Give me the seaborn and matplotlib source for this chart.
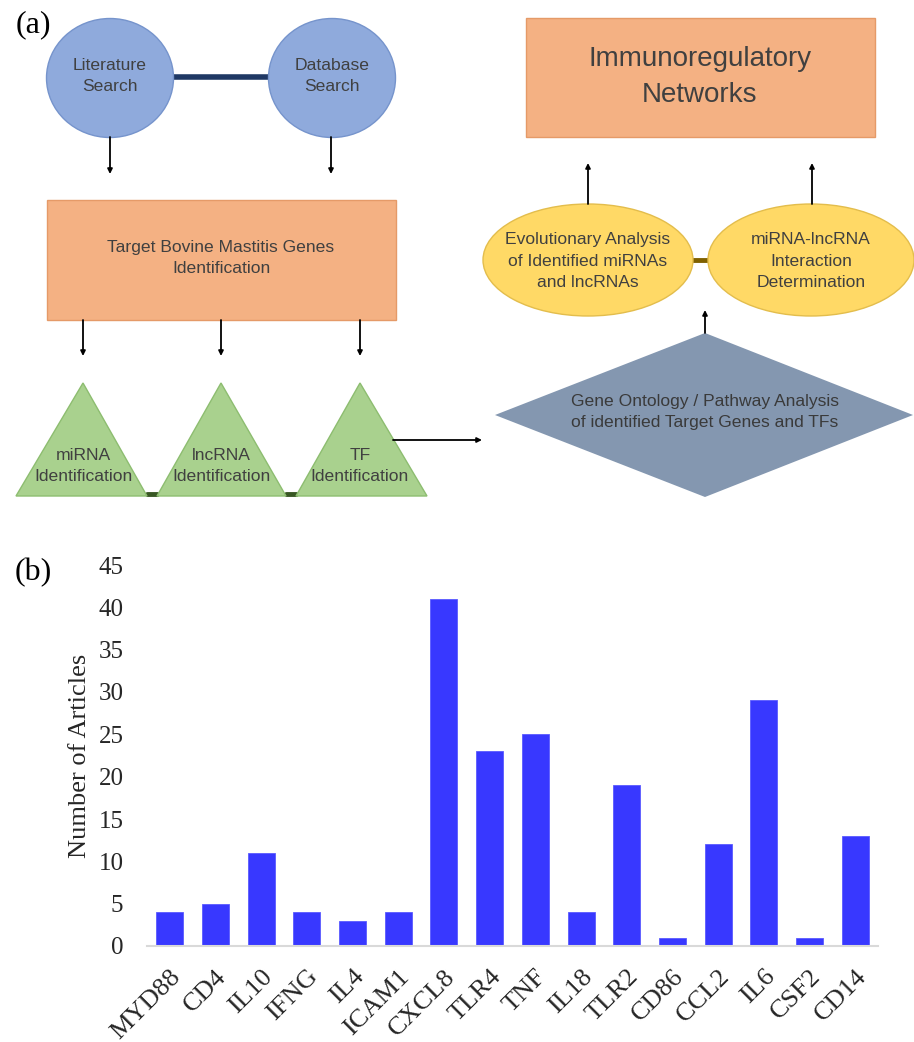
import numpy as np
import pandas as pd
import matplotlib
matplotlib.use('Agg')
import matplotlib.pyplot as plt
import seaborn as sns
from matplotlib.patches import Ellipse, Rectangle, Polygon

# data for panel (b)
genes = ['MYD88', 'CD4', 'IL10', 'IFNG', 'IL4', 'ICAM1', 'CXCL8', 'TLR4',
         'TNF', 'IL18', 'TLR2', 'CD86', 'CCL2', 'IL6', 'CSF2', 'CD14']
articles = [4, 5, 11, 4, 3, 4, 41, 23, 25, 4, 19, 1, 12, 29, 1, 13]
y_ticks = [0, 5, 10, 15, 20, 25, 30, 35, 40, 45]

sns.set_style('white')
plt.rcParams['font.family'] = ['Liberation Sans', 'DejaVu Sans']

W, H = 914, 1042
fig = plt.figure(figsize=(W / 100, H / 100), dpi=100)

# ---- panel (a): flowchart drawn in pixel coords ----
ax0 = fig.add_axes([0, 0, 1, 1])
ax0.set_xlim(0, W)
ax0.set_ylim(H, 0)
ax0.axis('off')

txt = '#404040'
fs = 12.6
ls = 1.55

def arrow(x0, y0, x1, y1):
    ax0.annotate('', xy=(x1, y1), xytext=(x0, y0),
                 arrowprops=dict(arrowstyle='-|>', lw=1.3, color='black',
                                 mutation_scale=7, shrinkA=0, shrinkB=0))

def label(x, y, s, size=fs, color=txt):
    ax0.text(x, y, s, ha='center', va='center', fontsize=size,
             color=color, linespacing=ls, zorder=3)

# search circles
ax0.plot([174, 268], [77, 77], color='#1f3864', lw=4, zorder=1)
for cx, s in [(110, 'Literature\nSearch'), (332, 'Database\nSearch')]:
    ax0.add_patch(Ellipse((cx, 78), 127, 119, facecolor='#8faadc',
                          edgecolor='#7694cc', lw=1, zorder=2))
    label(cx, 76, s)
arrow(110, 137, 110, 174)
arrow(331, 137, 331, 174)

# target genes box
ax0.add_patch(Rectangle((47, 200), 349, 120, facecolor='#f4b183',
                        edgecolor='#e59a68', lw=1, zorder=2))
label(221, 258, 'Target Bovine Mastitis Genes\nIdentification')
for x in [83, 221, 360]:
    arrow(x, 320, x, 356)

# triangles
tri_labels = ['miRNA\nIdentification', 'lncRNA\nIdentification', 'TF\nIdentification']
tri_x = [(16, 83, 147), (157, 221, 286), (296, 360, 427)]
for (l, c, r), s in zip(tri_x, tri_labels):
    ax0.add_patch(Polygon([(l, 496), (c, 383), (r, 496)], closed=True,
                          facecolor='#a9d18e', edgecolor='#8dbd70', lw=1, zorder=2))
    label(c, 466, s)
ax0.plot([147, 157], [494, 494], color='#385723', lw=3.5, zorder=1)
ax0.plot([286, 296], [494, 494], color='#385723', lw=3.5, zorder=1)
arrow(393, 440, 482, 440)

# diamond
ax0.add_patch(Polygon([(495, 415), (705, 333), (913, 415), (705, 497)], closed=True,
                      facecolor='#8497b0', edgecolor='none', zorder=2))
label(705, 412, 'Gene Ontology / Pathway Analysis\nof identified Target Genes and TFs',
      color='#3a3a3a')
arrow(705, 333, 705, 310)

# yellow ellipses
ax0.plot([693, 708], [260, 260], color='#7f6000', lw=3.5, zorder=1)
ax0.add_patch(Ellipse((588, 260), 210, 112, facecolor='#ffd966',
                      edgecolor='#e3bd4c', lw=1, zorder=2))
label(588, 261, 'Evolutionary Analysis\nof Identified miRNAs\nand lncRNAs')
ax0.add_patch(Ellipse((811, 260), 206, 112, facecolor='#ffd966',
                      edgecolor='#e3bd4c', lw=1, zorder=2))
label(811, 261, 'miRNA-lncRNA\nInteraction\nDetermination')
arrow(588, 204, 588, 163)
arrow(812, 204, 812, 163)

# networks box
ax0.add_patch(Rectangle((526, 18), 349, 119, facecolor='#f4b183',
                        edgecolor='#e59a68', lw=1, zorder=2))
ax0.text(700, 77, 'Immunoregulatory\nNetworks', ha='center', va='center',
         fontsize=20, color=txt, linespacing=1.5, zorder=3)

ax0.text(33, 25, '(a)', ha='center', va='center', fontsize=23,
         family='Liberation Serif', color='black')
ax0.text(33, 573, '(b)', ha='center', va='center', fontsize=23,
         family='Liberation Serif', color='black')

# ---- panel (b): bar chart ----
ax = fig.add_axes([147 / W, 1 - 946 / H, (878 - 147) / W, (946 - 565) / H])
df = pd.DataFrame({'Gene': genes, 'Articles': articles})
sns.barplot(data=df, x='Gene', y='Articles', color='#3838ff', saturation=1,
            width=0.59, edgecolor='#5a5aff', linewidth=0.6, ax=ax)
ax.set_xlim(-0.5, len(genes) - 0.5)
ax.set_ylim(0, 45)
ax.set_yticks(y_ticks)
ax.set_facecolor('none')
sns.despine(ax=ax, left=True)
ax.spines['bottom'].set_color('#d9d9d9')
ax.spines['bottom'].set_linewidth(1.5)
ax.tick_params(axis='y', length=0, labelsize=18, pad=17)
ax.tick_params(axis='x', length=0, labelsize=19, pad=14)
ax.set_xticks(range(len(genes)))
ax.set_xticklabels(genes, rotation=45, ha='right', rotation_mode='anchor',
                   family='Liberation Serif')
for lab in ax.get_yticklabels():
    lab.set_family('Liberation Serif')
ax.set_xlabel('')
ax.set_ylabel('Number of Articles', fontsize=19, family='Liberation Serif', labelpad=5)

fig.savefig('out.png', dpi=100)
